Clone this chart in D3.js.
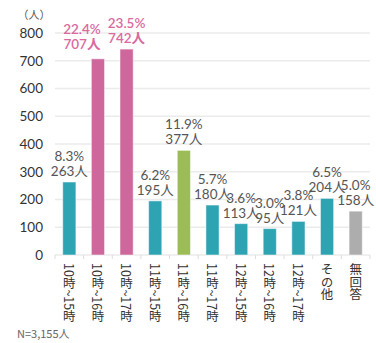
<!DOCTYPE html>
<html>
<head>
<meta charset="utf-8">
<script src="https://cdn.jsdelivr.net/npm/d3@7"></script>
<style>
  html, body { margin: 0; padding: 0; background: #fff; }
  svg { display: block; font-family: "Noto Sans CJK JP", "Noto Sans", sans-serif; }
</style>
</head>
<body>
<svg id="chart" width="376" height="343"></svg>
<script>
// Working-hour patterns and respondent counts
const categories = ["10時~15時", "10時~16時", "10時~17時", "11時~15時", "11時~16時", "11時~17時",
                    "12時~15時", "12時~16時", "12時~17時", "その他", "無回答"];
const counts   = [263, 707, 742, 195, 377, 180, 113, 95, 121, 204, 158];
const percents = ["8.3%", "22.4%", "23.5%", "6.2%", "11.9%", "5.7%", "3.6%", "3.0%", "3.8%", "6.5%", "5.0%"];
const groups   = ["base", "top", "top", "base", "mid", "base", "base", "base", "base", "base", "none"];
const yTicks   = [0, 100, 200, 300, 400, 500, 600, 700, 800];

const colors = { base: "#2ea3b2", top: "#cd679c", mid: "#9cbc55", none: "#adadad" };
const labelColors = { base: "#555", top: "#d9699f", mid: "#555", none: "#555" };

const svg = d3.select("#chart");
const margin = { left: 55, right: 6, top: 33, bottom: 88 };
const W = 376, H = 343;

const x = d3.scaleBand().domain(categories).range([margin.left, W - margin.right]).paddingInner(0.54).paddingOuter(0.27);
const y = d3.scaleLinear().domain([0, 800]).range([H - margin.bottom, margin.top]);

// horizontal grid
svg.append("g").selectAll("line").data(yTicks).join("line")
  .attr("x1", margin.left).attr("x2", W - margin.right)
  .attr("y1", d => y(d)).attr("y2", d => y(d))
  .attr("stroke", "#ebebeb").attr("stroke-width", 1.5);

// y axis labels
const yAxis = d3.axisLeft(y).tickValues(yTicks).tickSize(0).tickPadding(12);
svg.append("g").attr("transform", `translate(${margin.left},0)`).call(yAxis)
  .call(g => g.select(".domain").remove())
  .call(g => g.selectAll("text").attr("fill", "#333").attr("font-size", 13.5)
    .attr("font-family", "Lato, 'Noto Sans', sans-serif"));

svg.append("text").attr("x", 34).attr("y", 19).attr("text-anchor", "middle")
  .attr("fill", "#555").attr("font-size", 11).text("（人）");

// category tick marks between bands
const bounds = d3.range(categories.length + 1).map(i => margin.left + i * (W - margin.left - margin.right) / categories.length);
svg.append("g").selectAll("line").data(bounds).join("line")
  .attr("x1", d => d).attr("x2", d => d)
  .attr("y1", y(0)).attr("y2", y(0) + 4)
  .attr("stroke", "#ddd").attr("stroke-width", 1);

// bars
svg.append("g").selectAll("rect").data(categories).join("rect")
  .attr("x", d => x(d)).attr("width", x.bandwidth())
  .attr("y", (d, i) => y(counts[i])).attr("height", (d, i) => y(0) - y(counts[i]))
  .attr("fill", (d, i) => colors[groups[i]])
  .attr("stroke", "#fff").attr("stroke-opacity", 0.5).attr("stroke-width", 1);

// value labels; the 10時~16時 label is nudged left so it clears its taller neighbour's label
const nudge = { "10時~16時": { dx: -16, dy: -4 } };
const lab = svg.append("g").attr("font-size", 13.5).attr("text-anchor", "middle")
  .attr("font-family", "Lato, 'Noto Sans CJK JP', sans-serif");
categories.forEach((c, i) => {
  const off = nudge[c] || { dx: 0, dy: 0 };
  const cx = x(c) + x.bandwidth() / 2 + off.dx;
  const top = y(counts[i]) + off.dy;
  const t = lab.append("text").attr("fill", labelColors[groups[i]])
    .attr("font-weight", groups[i] === "top" ? 600 : 400);
  t.append("tspan").attr("x", cx).attr("y", top - 21).text(percents[i]);
  t.append("tspan").attr("x", cx).attr("y", top - 6).text(counts[i] + "人");
});

// vertical category labels
svg.append("g").selectAll("text").data(categories).join("text")
  .attr("x", d => x(d) + x.bandwidth() / 2)
  .attr("y", y(0) + 8)
  .style("writing-mode", "vertical-rl")
  .attr("fill", "#333").attr("font-size", 12.5)
  .text(d => d);

svg.append("text").attr("x", 17).attr("y", 338).attr("fill", "#666").attr("font-size", 11).text("N=3,155人");
</script>
</body>
</html>
